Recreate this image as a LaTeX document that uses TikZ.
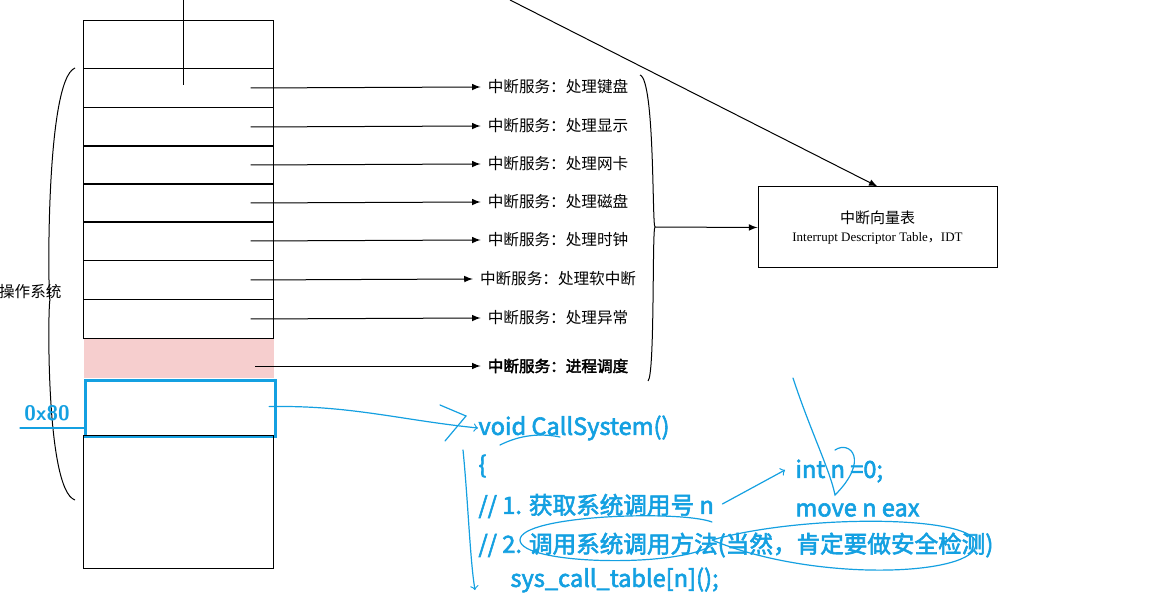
\documentclass[tikz,border=0pt]{standalone}
\usepackage{fontspec}
\setmainfont{Liberation Serif}
\newfontfamily\cjk[AutoFakeBold=2.5]{Noto Sans CJK SC}
\usepackage{tikz}
\usetikzlibrary{arrows,positioning,calc,decorations.pathreplacing}
\definecolor{pen}{RGB}{20,160,225}
\definecolor{pinkfill}{RGB}{246,206,206}
\begin{document}
\begin{tikzpicture}[
    x=0.5pt, y=-0.5pt,
    line width=.5pt,
    slot/.style = {draw=black, minimum width=95pt, minimum height=19.5pt, inner sep=0pt, anchor=north west},
    service/.style = {font=\cjk\fontsize{7.8pt}{9pt}\selectfont},
    connector/.style = {black, line width=.5pt, -latex},
    handwritten/.style = {pen, line width=.6pt, line cap=round},
    code/.style = {pen, anchor=west, inner sep=0pt, font=\cjk\bfseries\fontsize{11.8pt}{13pt}\selectfont},
  ]
  \useasboundingbox (0,0) rectangle (1160,598);
  % stack of slots
  \node[slot, minimum height=24pt] (Top) at (83,20) {};
  \foreach \row/\y/\txt in {1/68/处理键盘, 2/107/处理显示, 3/145/处理网卡, 4/183/处理磁盘,
                            5/221/处理时钟, 6/260/处理软中断, 7/299/处理异常} {
    \node[slot] (Slot\row) at (83,\y) {};
    \node[service] (Srv\row) at (558,\y+19) {中断服务：\txt};
    \draw[connector] ($(Slot\row.center)+(36pt,0)$) -- (Srv\row.west);
  }
  \node[slot, fill=pinkfill, draw=none] (Slot8) at (83,338) {};
  \node[service, font=\cjk\bfseries\fontsize{7.8pt}{9pt}\selectfont] (Srv8) at (558,366) {中断服务：进程调度};
  \coordinate (Src8) at (255,366);
  \draw[connector] (Src8) -- (Srv8.west);
  \node[slot, draw=pen, line width=1.6pt, minimum height=28pt] (Syscall) at (84,379) {};
  \node[slot, minimum height=66.5pt] (Bottom) at (83,435) {};
  \draw (183,0) -- (183,85);
  % braces
  \draw (75,68) .. controls (45,80) and (48,300) .. (50,300)
        .. controls (48,300) and (45,490) .. (75,500);
  \node[service, anchor=east, inner sep=0pt] (OS) at (62,292) {操作系统};
  \draw (640,75) .. controls (655,80) and (652,227) .. (655,227)
        .. controls (652,227) and (655,375) .. (648,381);
  % descriptor table
  \node[draw, minimum width=119.5pt, minimum height=40.5pt, align=center, inner sep=2pt,
        font=\fontsize{6.5pt}{9pt}\selectfont] (IDT) at (877.5,227.5)
    {{\cjk\fontsize{7.5pt}{9pt}\selectfont 中断向量表}\\Interrupt Descriptor Table{\cjk ，}IDT};
  \coordinate (BraceTip) at (655,227);
  \draw[connector] (BraceTip) -- (IDT.west);
  \coordinate (TopSrc) at (510,0);
  \draw[connector] (TopSrc) -- (IDT.north);
  % handwritten code
  \node[code, font=\sffamily\bfseries\fontsize{10.5pt}{12pt}\selectfont] (Hex) at (24,413) {0x80};
  \node[code] (Fn) at (478,428) {void CallSystem()};
  \node[code] (Open) at (478,466) {\{};
  \node[code] (Step1) at (478,506) {// 1. 获取系统调用号 n};
  \node[code] (Step2) at (478,545) {// 2. 调用系统调用方法(当然，肯定要做安全检测)};
  \node[code] (Call) at (510,580) {sys\_call\_table[n]();};
  \node[code] (IntN) at (795,471) {int n =0;};
  \node[code] (MoveN) at (795,510) {move n eax};
  \draw[handwritten] (20,428) -- (84,428);
  \draw[handwritten, -to] (Syscall.east) ++(-8,-2) .. controls (350,405) and (400,420) .. (Fn.west);
  \draw[handwritten] (440,405) -- (466,416) -- (445,441);
  \draw[handwritten, -to] (463,450) .. controls (468,500) and (470,560) .. (475,590);
  \draw[handwritten, -to] (Step1.east) ++(8,-2) -- (785,470);
  \draw[handwritten] (793,378) .. controls (810,430) and (830,470) .. (835,495)
                     .. controls (870,460) and (850,440) .. (835,450);
  \draw[handwritten] (712,522) .. controls (680,510) and (520,515) .. (520,540)
                     .. controls (520,565) and (680,568) .. (712,545);
  \draw[handwritten] (712,540) .. controls (800,515) and (960,515) .. (975,540)
                     .. controls (990,575) and (820,585) .. (712,540);
  \draw[handwritten] (500,445) .. controls (520,435) and (540,433) .. (560,437);
\end{tikzpicture}
\end{document}
